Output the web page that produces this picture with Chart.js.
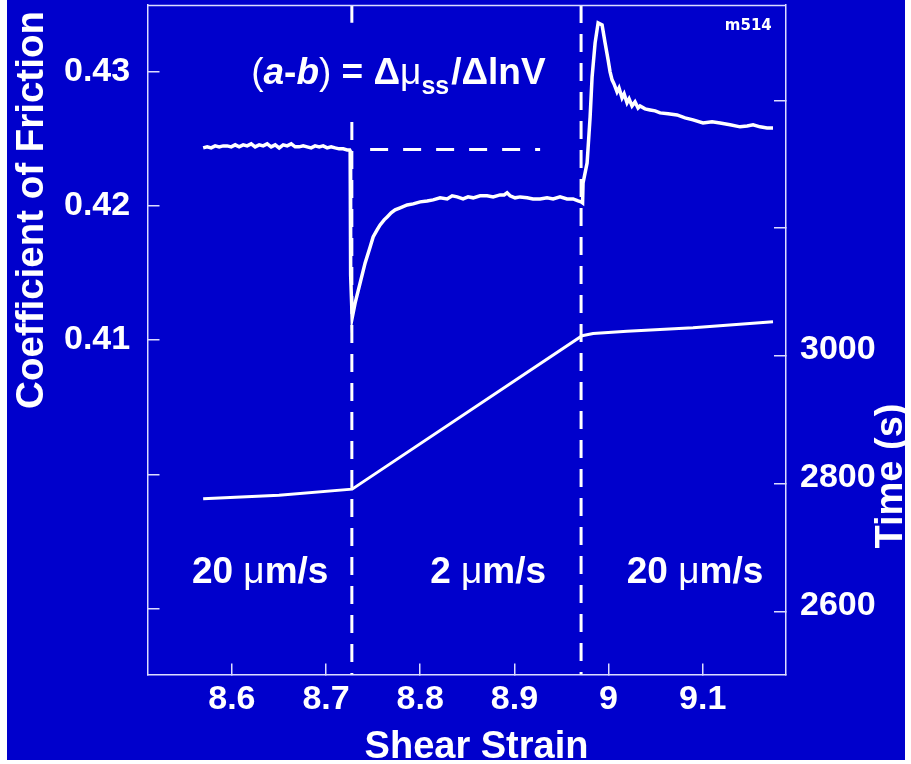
<!DOCTYPE html>
<html><head><meta charset="utf-8">
<script src="https://cdn.jsdelivr.net/npm/chart.js@4/dist/chart.umd.min.js"></script>
<style>html,body{margin:0;padding:0;background:#fff;overflow:hidden}canvas{display:block}</style>
</head><body>
<canvas id="c" width="911" height="764"></canvas>
<script>
// ---- data ----
const frictionStrain = [8.5695,8.5738,8.5780,8.5823,8.5865,8.5908,8.5950,8.5993,8.6035,8.6077,8.6120,8.6162,8.6205,8.6247,8.6290,8.6332,8.6375,8.6417,8.6460,8.6502,8.6545,8.6587,8.6630,8.6672,8.6714,8.6757,8.6799,8.6842,8.6884,8.6927,8.6969,8.7012,8.7054,8.7097,8.7139,8.7182,8.7224,8.7251,
  8.7256,8.7261,8.7277,
  8.7309,8.7362,8.7415,8.7468,8.7500,8.7542,8.7574,8.7617,8.7649,8.7691,8.7734,8.7787,8.7861,8.7925,8.7999,8.8073,8.8137,8.8211,8.8286,8.8339,8.8392,8.8455,8.8508,8.8562,8.8636,8.8710,8.8774,8.8848,8.8891,8.8922,8.8954,8.9007,8.9061,8.9135,8.9198,8.9273,8.9347,8.9411,8.9485,8.9559,8.9623,8.9676,8.9708,8.9724,
  8.9729,8.9772,8.9804,8.9825,8.9857,8.9889,8.9931,8.9963,8.9995,9.0016,9.0037,9.0058,9.0090,9.0111,9.0143,9.0165,9.0196,9.0218,9.0249,9.0281,9.0313,9.0334,9.0387,9.0441,9.0494,9.0547,9.0632,9.0727,9.0812,9.0897,9.1003,9.1099,9.1184,9.1290,9.1396,9.1471,9.1534,9.1608,9.1683,9.1746];
const frictionValues = [0.42432,0.42440,0.42432,0.42447,0.42440,0.42447,0.42447,0.42440,0.42455,0.42440,0.42455,0.42447,0.42462,0.42440,0.42455,0.42447,0.42462,0.42440,0.42455,0.42432,0.42455,0.42447,0.42462,0.42440,0.42440,0.42447,0.42440,0.42432,0.42447,0.42440,0.42447,0.42432,0.42440,0.42432,0.42425,0.42425,0.42417,0.42417,
  0.42410,0.41486,0.41165,
  0.41277,0.41426,0.41575,0.41694,0.41769,0.41821,0.41858,0.41896,0.41918,0.41948,0.41970,0.41985,0.42007,0.42015,0.42030,0.42037,0.42045,0.42060,0.42052,0.42075,0.42067,0.42052,0.42067,0.42060,0.42075,0.42075,0.42067,0.42082,0.42082,0.42097,0.42075,0.42060,0.42067,0.42060,0.42052,0.42052,0.42060,0.42052,0.42067,0.42052,0.42052,0.42037,0.42030,0.42022,
  0.42171,0.42320,0.42663,0.42961,0.43215,0.43364,0.43349,0.43215,0.43088,0.42999,0.42939,0.42909,0.42849,0.42879,0.42805,0.42835,0.42768,0.42797,0.42745,0.42775,0.42730,0.42745,0.42723,0.42715,0.42708,0.42693,0.42686,0.42678,0.42656,0.42641,0.42618,0.42626,0.42618,0.42604,0.42589,0.42596,0.42604,0.42589,0.42581,0.42581];
const timeStrain = [8.5695,8.6500,8.7277,8.9719,8.9836,9.0196,9.0897,9.1746];
const timeValues = [2777.0,2782.5,2791.9,3031.9,3035.3,3038.9,3044.1,3053.5];
const velocityStepStrain = [8.7274,8.9708];
// friction range hidden behind the formula on the first step line
const formulaGapFriction = [0.43364,0.42626];
const steadyStateStrain = [8.7468,8.9273];
const steadyStateFriction = 0.42421;
const frictionTickLabels = [0.41,0.42,0.43];
const timeTickLabels = [2600,2800,3000];
const velocityLabels = ['20 ','2 ','20 '];
const velocityLabelStrain = [8.6300,8.8721,9.0918];

// ---- styling / layout ----
const BG = '#0000cc', WHITE = '#ffffff', FRAME = '#dcdcff';
const FONT = 'Liberation Sans';
Chart.defaults.font.family = FONT;
const X_MIN = 8.5104, X_MAX = 9.1884, F_MIN = 0.38508, F_MAX = 0.43497, T_MIN = 2502, T_MAX = 3549;

const frictionData = frictionStrain.map((s,i)=>({x:s,y:frictionValues[i]}));
const timeData = timeStrain.map((s,i)=>({x:s,y:timeValues[i]}));
const step1 = velocityStepStrain[0], step2 = velocityStepStrain[1];
const step1Data = [{x:step1,y:F_MAX},{x:step1,y:formulaGapFriction[0]},{x:step1,y:null},{x:step1,y:formulaGapFriction[1]},{x:step1,y:F_MIN}];
const step2Data = [{x:step2,y:F_MAX},{x:step2,y:F_MIN}];

function zeroPad(s){ s.paddingTop=0; s.paddingBottom=0; s.paddingLeft=0; s.paddingRight=0; }

const decor = {
  id:'decor',
  beforeDraw(chart){
    const ctx = chart.ctx; ctx.save();
    ctx.fillStyle = WHITE; ctx.fillRect(0,0,chart.width,chart.height);
    ctx.fillStyle = BG; ctx.fillRect(7,0,898,760);
    ctx.restore();
  },
  afterDraw(chart){
    const {ctx, chartArea:a, scales} = chart;
    const X = v=>scales.x.getPixelForValue(v), Y = v=>scales.y.getPixelForValue(v);
    ctx.save();
    ctx.strokeStyle = FRAME; ctx.lineWidth = 1.5;
    ctx.beginPath(); ctx.moveTo(a.left, a.top+0.5); ctx.lineTo(a.right, a.top+0.5); ctx.stroke();
    ctx.fillStyle = WHITE; ctx.textBaseline = 'alphabetic';
    // axis titles
    ctx.font = `bold 38.5px "${FONT}"`; ctx.textAlign = 'center';
    ctx.save(); ctx.translate(43, 210); ctx.rotate(-Math.PI/2); ctx.fillText('Coefficient of Friction', 0, 0); ctx.restore();
    ctx.font = `bold 38px "${FONT}"`;
    ctx.save(); ctx.translate(902, 476); ctx.rotate(-Math.PI/2); ctx.fillText('Time (s)', 0, 0); ctx.restore();
    ctx.fillText('Shear Strain', 476.5, 758);
    // formula
    const parts = [
      ['(', `37px "${FONT}"`, 0], ['a', `italic bold 37px "${FONT}"`, 0], ['-', `bold 37px "${FONT}"`, 0],
      ['b', `italic bold 37px "${FONT}"`, 0], [')', `37px "${FONT}"`, 0], [' = ', `bold 37px "${FONT}"`, 0],
      ['Δ', `bold 37px "${FONT}"`, 0], ['μ', `37px "${FONT}"`, 0], ['ss', `bold 25px "${FONT}"`, 10],
      ['/ΔlnV', `bold 37px "${FONT}"`, 0]
    ];
    ctx.textAlign = 'left';
    let fx = X(8.6205); const fy = Y(0.42909);
    for (const [t,f,dy] of parts){ ctx.font = f; ctx.fillText(t, fx, fy+dy); fx += ctx.measureText(t).width + (t==='ss'?2:0); }
    // velocity labels
    velocityLabels.forEach((lab,i)=>{
      const segs = [[lab, `bold 37px "${FONT}"`], ['μ', `37px "${FONT}"`], ['m/s', `bold 37px "${FONT}"`]];
      let w = 0; segs.forEach(([t,f])=>{ ctx.font=f; w += ctx.measureText(t).width; });
      let x = X(velocityLabelStrain[i]) - w/2; const y = Y(0.39191);
      segs.forEach(([t,f])=>{ ctx.font=f; ctx.fillText(t, x, y); x += ctx.measureText(t).width; });
    });
    // run id
    ctx.font = `bold 15px "DejaVu Sans"`; ctx.textAlign = 'right';
    ctx.fillText('m514', X(9.1733), Y(0.43311));
    ctx.restore();
  }
};

new Chart(document.getElementById('c'), {
  type: 'line',
  data: { datasets: [
    { data: frictionData, yAxisID:'y', borderColor: WHITE, borderWidth: 3.5, pointRadius: 0, tension: 0, order: 1 },
    { data: timeData, yAxisID:'y1', borderColor: WHITE, borderWidth: 3, pointRadius: 0, tension: 0, order: 2 },
    { data: step1Data, yAxisID:'y', borderColor: WHITE, borderWidth: 3, borderDash:[18,11], pointRadius:0, spanGaps:false, order: 3 },
    { data: step2Data, yAxisID:'y', borderColor: WHITE, borderWidth: 3, borderDash:[18,11], pointRadius:0, order: 3 },
    { data: steadyStateStrain.map(s=>({x:s,y:steadyStateFriction})), yAxisID:'y', borderColor: WHITE, borderWidth: 3, borderDash:[18,15], pointRadius:0, order: 3 }
  ]},
  options: {
    responsive:false, animation:false, events:[], devicePixelRatio:1,
    layout:{ autoPadding:false, padding:{ left:64, top:5, right:0, bottom:0 } },
    plugins:{ legend:{display:false}, tooltip:{enabled:false} },
    scales:{
      x:{ type:'linear', position:'bottom', min:X_MIN, max:X_MAX,
        ticks:{ stepSize:0.1, includeBounds:false, autoSkip:false, maxRotation:0, color:WHITE, padding:16,
          font:{size:34, weight:'bold'}, callback:v=>String(Math.round(v*10)/10) },
        grid:{ display:true, drawOnChartArea:false, drawTicks:true, tickLength:-11, color:FRAME, lineWidth:1.5 },
        border:{ display:true, color:FRAME, width:1.5 },
        afterFit:s=>{ s.height = 764-674.5; zeroPad(s); } },
      y:{ type:'linear', position:'left', min:F_MIN, max:F_MAX,
        ticks:{ stepSize:0.01, includeBounds:false, autoSkip:false, color:WHITE, crossAlign:'far',
          font:{size:34, weight:'bold'},
          callback:v=>{ const r=Math.round(v*100)/100; return frictionTickLabels.includes(r)? r.toFixed(2):''; } },
        grid:{ display:true, drawOnChartArea:false, drawTicks:true, tickLength:-12, color:FRAME, lineWidth:1.5 },
        border:{ display:true, color:FRAME, width:1.5 },
        afterFit:s=>{ s.width = 147.5-64; zeroPad(s); } },
      y1:{ type:'linear', position:'right', min:T_MIN, max:T_MAX,
        ticks:{ stepSize:200, includeBounds:false, autoSkip:false, color:WHITE, padding:26, labelOffset:-6,
          font:{size:34, weight:'bold'},
          callback:v=>{ const r=Math.round(v); return timeTickLabels.includes(r)? String(r):''; } },
        grid:{ display:true, drawOnChartArea:false, drawTicks:true, tickLength:-12, color:FRAME, lineWidth:1.5 },
        border:{ display:true, color:FRAME, width:1.5 },
        afterFit:s=>{ s.width = 911-786; zeroPad(s); } }
    }
  },
  plugins:[decor]
});
</script>
</body></html>
